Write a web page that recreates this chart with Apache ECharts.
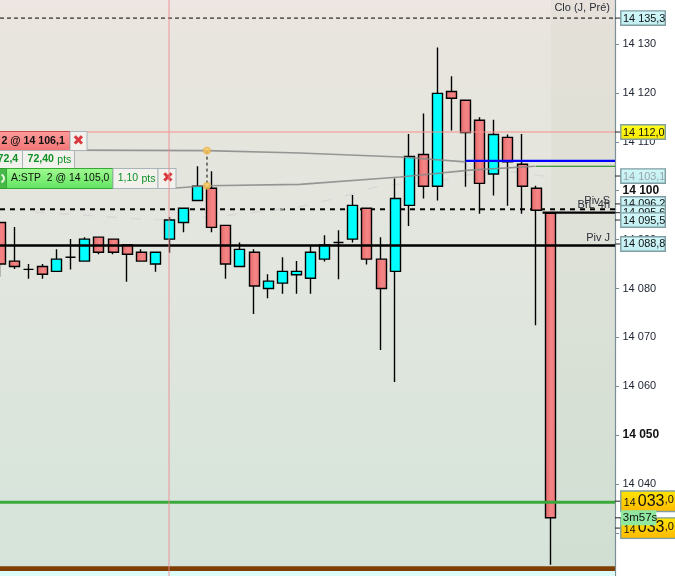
<!DOCTYPE html>
<html><head><meta charset="utf-8">
<style>html,body{margin:0;padding:0;background:#fff}#c{width:675px;height:576px}</style>
<script src="https://cdn.jsdelivr.net/npm/echarts@6/dist/echarts.min.js"></script>
</head><body><div id="c"></div>
<script>
// ----- candle data (prices), oldest first
const opens  = [14093.5,14085.6,14083.9,14084.5,14083.5,14086.4,14085.6,14090.5,14090.1,14088.9,14087.4,14085.0,14090.1,14093.5,14098.0,14100.5,14092.9,14084.5,14087.4,14080.0,14081.1,14082.8,14082.1,14086.0,14089.4,14090.1,14096.4,14086.0,14083.5,14097.0,14107.4,14100.9,14120.3,14118.5,14114.4,14103.4,14110.9,14105.4,14100.5,14095.4];
const closes = [14085.0,14084.5,14083.9,14082.9,14086.0,14086.4,14090.1,14087.4,14087.4,14087.0,14085.6,14087.4,14094.0,14096.4,14100.9,14092.5,14085.0,14088.0,14080.5,14081.5,14083.5,14083.5,14087.4,14088.9,14089.4,14097.0,14086.0,14080.0,14098.4,14107.0,14100.9,14119.9,14118.9,14111.9,14101.5,14111.5,14105.9,14100.9,14096.0,14033.1];
const lows   = [14082.4,14084.0,14082.0,14082.0,14083.5,14083.9,14085.6,14087.0,14087.0,14081.4,14085.6,14083.4,14087.3,14091.5,14098.0,14091.5,14082.0,14084.5,14074.8,14078.0,14078.9,14078.9,14078.9,14085.5,14081.9,14089.4,14084.9,14067.4,14060.9,14092.8,14098.4,14098.0,14112.3,14100.8,14095.3,14099.0,14096.9,14095.3,14072.5,14023.5];
const highs  = [14093.5,14092.6,14085.0,14085.0,14088.0,14090.1,14090.5,14090.5,14090.1,14088.9,14088.0,14087.4,14094.6,14096.4,14105.0,14104.0,14092.9,14089.4,14088.0,14082.9,14086.4,14085.6,14088.9,14090.9,14091.9,14099.1,14096.4,14090.5,14102.5,14111.6,14115.8,14129.3,14123.4,14118.5,14115.0,14114.5,14111.5,14111.6,14101.0,14095.4];
// ----- value axis
const tickValues = [14130,14120,14110,14100,14090,14080,14070,14060,14050,14040,14030];
const boldTicks  = [14100,14050];
const yMin = 14021.2, yMax = 14139.0, xMin = -0.014, xMax = 43.587;
// ----- level lines: [x0, x1, price]
const cloLine  = [xMin, xMax, 14135.3];
const pivSLine = [xMin, xMax, 14096.2];
const brlLine  = [38.45, xMax, 14095.5];
const pivJLine = [xMin, xMax, 14088.8];
const pinkLine = [xMin, xMax, 14112.0];
const blueLine = [33.0, xMax, 14106.1];
const stopLine = [37.95, xMax, 14105.0];
const greenLine= [xMin, xMax, 14036.3];
const brownLine= [xMin, xMax, 14022.7];
// ----- curves
const upperCurveX = [0,4.95,14.66,21.25,28.35,33.0];
const upperCurveY = [14108.3,14108.3,14108.2,14107.7,14106.9,14105.9];
const lowerCurveX = [12.46,14.66,21.25,28.35,33.3,37.9];
const lowerCurveY = [14100.55,14101.0,14101.3,14102.8,14104.2,14105.0];
const ghostCurveX = [2.47,7.08,10.62,15.09,21.25,24.45,26.93,31.18,33.3,36.5,38.62];
const ghostCurveY = [14095.6,14094.8,14094.0,14094.6,14096.7,14098.9,14101.0,14102.0,14103.3,14103.8,14103.0];
const crossX = 11.97;
const markerX = 14.66, markerPrices = [14108.2,14101.0];
// ----- price tags: [anchor price, text, kind]
const tags = [
  [14135.3,'14 135,3','blue'],[14112.0,'14 112,0','yellow'],[14103.0,'14 103,1','fade'],
  [14097.3,'14 096,2','blue'],[14095.5,'14 095,6','blue'],[14094.0,'14 095,5','blue'],[14089.1,'14 088,8','blue'],
  [14036.5,'033','gold'],[14031.0,'033','gold'],[14033.1,'3m57s','timer']
];
const levelTexts = [[14137.4,'Clo (J, Pré)'],[14098.0,'Piv S'],[14097.1,'BrL 4h'],[14090.3,'Piv J']];

const pair = (xs,ys)=>xs.map((x,i)=>[x,ys[i]]);
const seg = (s)=>[[s[0],s[2]],[s[1],s[2]]];
const lineS = (data,color,width,z,type,extra)=>Object.assign({type:'line',data,symbol:'none',silent:true,z,clip:false,
  lineStyle:{color,width,type:type||'solid',cap:'butt'},animation:false},extra||{});
const G = echarts.graphic;
const redFill = new G.LinearGradient(0,0,1,0,[{offset:0,color:'#e26666'},{offset:.55,color:'#f58686'},{offset:1,color:'#ec7474'}]);

const tagSeries = {
  type:'custom',z:20,clip:false,silent:true,animation:false,
  coordinateSystem:'cartesian2d',
  data:tags.map((t,i)=>[xMax,t[0],i]),
  encode:{x:0,y:1},
  renderItem(params,api){
    const t = tags[api.value(2)];
    const p = api.coord([api.value(0),api.value(1)]);
    const x = p[0]+5.8, yc = p[1], kind = t[2];
    const tick = {type:'line',shape:{x1:p[0],y1:yc,x2:p[0]+6,y2:yc},style:{stroke:'#222',lineWidth:1}};
    if(kind==='gold'){
      const h=20.5;
      return {type:'group',children:[tick,
        {type:'rect',shape:{x:x,y:yc-h/2,width:60,height:h},style:{stroke:'#7f9ea4',lineWidth:1.4,
          fill:new G.LinearGradient(0,0,0,1,[{offset:0,color:'#ffe600'},{offset:1,color:'#ffb800'}])}},
        {type:'text',style:{text:'14',x:x+3,y:yc+2,font:'10.5px "Liberation Sans"',fill:'#111',textVerticalAlign:'middle'}},
        {type:'text',style:{text:t[1],x:x+17,y:yc,font:'16px "Liberation Sans"',fill:'#111',textVerticalAlign:'middle'}},
        {type:'text',style:{text:',0',x:x+44,y:yc-1,font:'11px "Liberation Sans"',fill:'#111',textVerticalAlign:'middle'}}
      ]};
    }
    if(kind==='timer'){
      return {type:'group',children:[tick,
        {type:'rect',shape:{x:x,y:yc-7.5,width:35.5,height:15},style:{fill:'#90e8a0',stroke:'#90e8a0',lineWidth:0}},
        {type:'text',style:{text:t[1],x:x+2,y:yc,font:'11.5px "Liberation Sans"',fill:'#111',textVerticalAlign:'middle'}}
      ]};
    }
    const h=14.4, fill = kind==='yellow'
      ? new G.LinearGradient(0,0,0,1,[{offset:0,color:'#ffff20'},{offset:1,color:'#f8e800'}])
      : new G.LinearGradient(0,0,0,1,[{offset:0,color:'#d2f8fa'},{offset:1,color:'#c0eef2'}]);
    return {type:'group',children:[tick,
      {type:'rect',shape:{x:x,y:yc-h/2,width:44.5,height:h},style:{fill,stroke:'#7f9ea4',lineWidth:1.4}},
      {type:'text',style:{text:t[1],x:x+2.2,y:yc+.5,font:'10.9px "Liberation Sans"',fill:kind==='fade'?'#99a5a8':'#111',textVerticalAlign:'middle'}}
    ]};
  }
};
const levelTextSeries = {
  type:'custom',z:6,clip:false,silent:true,animation:false,
  data:levelTexts.map((t,i)=>[xMax,t[0],i]),encode:{x:0,y:1},
  renderItem(params,api){
    const p=api.coord([api.value(0),api.value(1)]);
    return {type:'text',style:{text:levelTexts[api.value(2)][1],x:p[0]-5,y:p[1],align:'right',textAlign:'right',textVerticalAlign:'middle',
      font:'11px "Liberation Sans"',fill:'#2c3038'}};
  }
};
const box=(x,y,w,h,fill,stroke)=>({type:'rect',z:10,shape:{x,y,width:w,height:h,r:[0,0,0,0]},style:{fill,stroke:stroke||'#aab4ba',lineWidth:1}});
const txt=(s,x,y,font,fill)=>({type:'text',z:11,style:{text:s,x,y,font,fill:fill,textVerticalAlign:'middle'}});
const vg=(a,b)=>new G.LinearGradient(0,0,0,1,[{offset:0,color:a},{offset:1,color:b}]);
const GREEN='#0f8f25';
const cross=(x,y)=>txt('✖',x,y,'bold 14px "DejaVu Sans"','#d8383e');

const chart=echarts.init(document.getElementById('c'),null,{renderer:'canvas'});
chart.setOption({
  animation:false,
  backgroundColor:'#ffffff',
  grid:{left:0,top:0,width:615,height:576,show:true,borderWidth:0,
    backgroundColor:new G.LinearGradient(0,0,0,1,[{offset:0,color:'#eee6e2'},{offset:.035,color:'#ebe5e0'},{offset:.07,color:'#e8e5de'},{offset:.5,color:'#e1e6de'},{offset:1,color:'#d5e4da'}])},
  xAxis:{type:'value',min:xMin,max:xMax,show:false,splitLine:{show:false}},
  yAxis:{type:'value',position:'right',min:yMin,max:yMax,z:1,splitLine:{show:false},
    axisLine:{show:true,onZero:false,lineStyle:{color:'#7b8d96',width:1.2}},
    axisTick:{show:true,length:4,customValues:tickValues,lineStyle:{color:'#7b8d96',width:1}},
    axisLabel:{show:true,customValues:tickValues,margin:7.5,hideOverlap:false,showMinLabel:true,showMaxLabel:true,
      fontFamily:'"Liberation Sans"',fontSize:11,color:'#1c2230',
      formatter:(v)=>{const s=String(Math.round(v));const t=s.slice(0,2)+' '+s.slice(2);return boldTicks.includes(Math.round(v))?'{b|'+t+'}':t;},
      rich:{b:{fontFamily:'"Liberation Sans"',fontSize:12,fontWeight:'bold',color:'#111'}}}},
  graphic:{elements:[
    {type:'rect',z:0,shape:{x:551,y:0,width:64,height:571},style:{fill:'rgba(120,110,60,0.045)'}},
    {type:'rect',z:9,shape:{x:0,y:571,width:615,height:5},style:{fill:'#dcfbfb'}},
    // order widgets
    box(-2,131.5,72,19,vg('#ff9c9c','#f27474'),'#c8484c'),
    txt('2 @ 14 106,1',1.5,141,'bold 10.6px "Liberation Sans"','#111'),
    box(70,131.5,17,19,'#f2f1ec'),
    cross(72.5,141),
    box(-2,150.5,24.5,18,'#f2f1ec'),
    txt('72,4',-2.4,159.5,'bold 10.6px "Liberation Sans"',GREEN),
    box(22.5,150.5,52,18,'#f2f1ec'),
    txt('72,40',27.5,159.5,'bold 10.6px "Liberation Sans"',GREEN),
    txt('pts',57.3,160.5,'10.5px "Liberation Sans"',GREEN),
    box(-3,168.5,10,20,'#48b848','#2f9f2f'),
    {type:'arc',z:11,shape:{cx:0,cy:178.5,r:4,startAngle:-1.2,endAngle:1.2},style:{stroke:'#e8f8e0',lineWidth:2,fill:'none'}},
    box(6.5,168.5,106.5,20,vg('#a0fb90','#62e462'),'#35a838'),
    txt('A:STP  2 @ 14 105,0',11,178.5,'10.4px "Liberation Sans"','#111'),
    box(113,168.5,45,20,'#f2f1ec'),
    txt('1,10',117.7,178.5,'10.5px "Liberation Sans"',GREEN),
    txt('pts',141.5,179.5,'10.5px "Liberation Sans"',GREEN),
    box(158,168.5,18,20,'#f2f1ec'),
    cross(162,178.5)
  ]},
  series:[
    lineS(seg(pivSLine),'#000',2,1,[5,5]),
    lineS(seg(cloLine),'#000',1,1,[4,3]),
    lineS(pair(ghostCurveX,ghostCurveY),'rgba(214,214,214,0.8)',1.5,1,[10,14]),
    {type:'candlestick',z:2,silent:true,animation:false,barWidth:10.5,clip:false,
      encode:{x:0,y:[1,2,3,4]},
      data:opens.map((o,i)=>[i,o,closes[i],lows[i],highs[i]]),
      itemStyle:{color:'#00ffff',color0:redFill,borderColor:'#000',borderColor0:'#000',borderColorDoji:'#000',borderWidth:1.4}},
    lineS(pair(upperCurveX,upperCurveY),'rgba(135,135,135,0.85)',1.6,3),
    lineS(pair(lowerCurveX,lowerCurveY),'rgba(135,135,135,0.85)',1.6,3),
    lineS(seg(pinkLine),'#f88e8e',1,3),
    lineS(seg(pivJLine),'#000',2.4,3),
    lineS(seg(brlLine),'#000',2.2,3),
    lineS(seg(blueLine),'#0000ff',2.2,3),
    lineS(seg(stopLine),'#108010',1.2,3),
    lineS(seg(greenLine),'#3ba83b',3,3),
    lineS(seg(brownLine),'#7f3f00',5,3),
    lineS([[crossX,yMin],[crossX,yMax]],'rgba(235,140,145,0.9)',1,12),
    lineS([[markerX,markerPrices[0]],[markerX,markerPrices[1]]],'#000',1,4,[3,3]),
    {type:'scatter',z:5,silent:true,animation:false,clip:false,symbolSize:7,
      data:markerPrices.map(p=>[markerX,p]),
      itemStyle:{color:new G.RadialGradient(.5,.4,.6,[{offset:0,color:'#ffd66e'},{offset:1,color:'#f0ab30'}]),borderColor:'#e8b050',borderWidth:1}},
    levelTextSeries,
    tagSeries
  ]
});
</script></body></html>
